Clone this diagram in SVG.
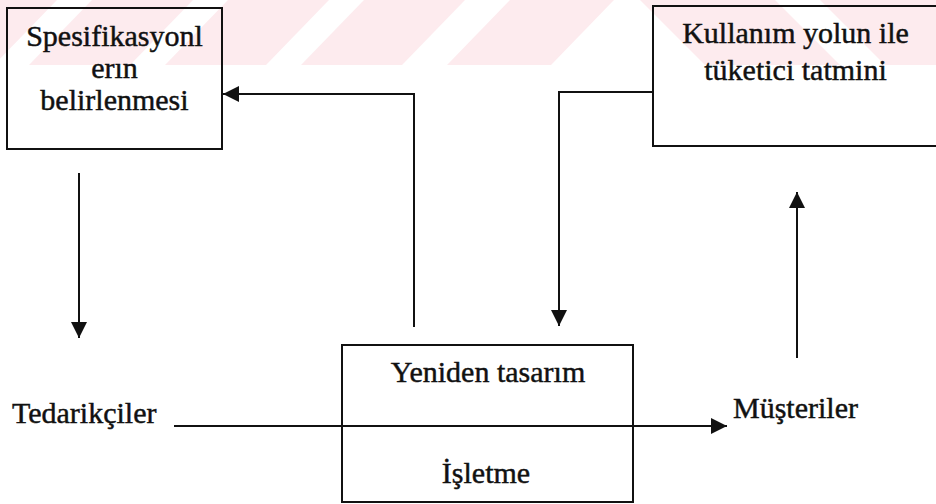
<svg xmlns="http://www.w3.org/2000/svg" width="936" height="504" viewBox="0 0 936 504">
  <style>
    .box { fill: none; stroke: #111; stroke-width: 2; }
    .lbl { font-family: 'Liberation Serif', 'DejaVu Serif', serif; font-size: 30px; fill: #111; stroke: #111; stroke-width: 0.45; text-anchor: middle; }
    .lbl-left { font-family: 'Liberation Serif', 'DejaVu Serif', serif; font-size: 30px; fill: #111; stroke: #111; stroke-width: 0.45; }
    .wire { fill: none; stroke: #111; stroke-width: 2; }
    .mark { fill: #fdebee; }
  </style>
  <defs>
    <marker id="arrow" viewBox="0 0 16 16" refX="16" refY="8" markerWidth="16" markerHeight="16" markerUnits="userSpaceOnUse" orient="auto">
      <path d="M0,0 L16,8 L0,16 z" fill="#111"/>
    </marker>
  </defs>

  <rect width="936" height="504" fill="#fff"/>

  <!-- faint striped mark along the top edge -->
  <g id="stripes">
    <polygon class="mark" points="-44,0 57,0 -6,65 -107,65"/>
    <polygon class="mark" points="92,0 193,0 130,65 29,65"/>
    <polygon class="mark" points="228,0 329,0 266,65 165,65"/>
    <polygon class="mark" points="364,0 465,0 402,65 301,65"/>
    <polygon class="mark" points="510,0 614,0 551,65 447,65"/>
    <polygon class="mark" points="640,0 775,0 840,65 705,65"/>
    <polygon class="mark" points="820,0 960,0 1025,65 885,65"/>
  </g>

  <g id="connectors">
    <!-- box 1 down to suppliers -->
    <line class="wire" x1="79" y1="173" x2="79" y2="338" marker-end="url(#arrow)"/>
    <!-- redesign up to specification box -->
    <polyline class="wire" points="414,327 414,94 223,94" marker-end="url(#arrow)"/>
    <!-- satisfaction box down to redesign -->
    <polyline class="wire" points="653,92 559,92 559,326" marker-end="url(#arrow)"/>
    <!-- suppliers through business to customers -->
    <line class="wire" x1="174" y1="426" x2="727" y2="426" marker-end="url(#arrow)"/>
    <!-- customers up to satisfaction box -->
    <line class="wire" x1="797" y1="358" x2="797" y2="192" marker-end="url(#arrow)"/>
  </g>

  <g id="spesifikasyon">
    <rect class="box" x="7" y="8" width="215" height="141"/>
    <text class="lbl" x="114.5" y="46">Spesifikasyonl</text>
    <text class="lbl" x="114.5" y="78">erın</text>
    <text class="lbl" x="114.5" y="110">belirlenmesi</text>
  </g>

  <g id="tuketici-tatmini">
    <rect class="box" x="653" y="6" width="300" height="140"/>
    <text class="lbl" x="795.5" y="43">Kullanım yolun ile</text>
    <text class="lbl" x="795.5" y="80">tüketici tatmini</text>
  </g>

  <g id="isletme">
    <rect class="box" x="342" y="345" width="291" height="157"/>
    <text class="lbl" x="488" y="382">Yeniden tasarım</text>
    <text class="lbl" x="486" y="483">İşletme</text>
  </g>

  <g id="tedarikciler">
    <text class="lbl-left" x="12" y="423">Tedarikçiler</text>
  </g>

  <g id="musteriler">
    <text class="lbl-left" x="733" y="418">Müşteriler</text>
  </g>
</svg>
